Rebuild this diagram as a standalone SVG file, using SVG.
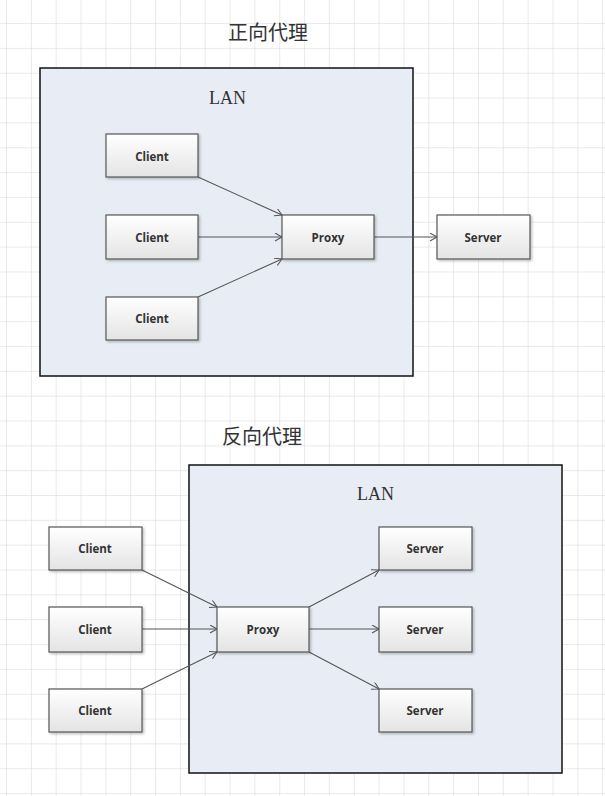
<svg xmlns="http://www.w3.org/2000/svg" width="605" height="796" viewBox="0 0 605 796">
<style>
.title{font-family:"Noto Sans CJK SC","Noto Sans CJK JP",sans-serif;font-size:20px;fill:#333}
.lan{font-family:"Liberation Serif",serif;font-size:18px;fill:#333}
.box{fill:url(#g);stroke:#555;stroke-width:1.2;filter:url(#sh)}
.lbl{font-family:"Open Sans","Liberation Sans",sans-serif;font-size:11.5px;font-weight:bold;fill:#333;text-anchor:middle;dominant-baseline:central}
.area{fill:#e8edf5;stroke:#111;stroke-width:1.5}
.edge{stroke:#555;stroke-width:1.1;fill:none;marker-end:url(#ah)}
</style>
<defs>
<pattern id="grid" x="6" y="-1.8" width="24.84" height="24.84" patternUnits="userSpaceOnUse">
<path d="M0 0V24.84M0 0H24.84" stroke="#d6d6d6" stroke-width="1" fill="none"/>
</pattern>
<linearGradient id="g" x1="0" y1="0" x2="0" y2="1">
<stop offset="0" stop-color="#ffffff"/>
<stop offset="1" stop-color="#e4e4e4"/>
</linearGradient>
<filter id="sh" x="-10%" y="-10%" width="130%" height="140%">
<feDropShadow dx="1.5" dy="1.5" stdDeviation="1" flood-color="#000" flood-opacity="0.25"/>
</filter>
<marker id="ah" markerWidth="10" markerHeight="10" refX="8" refY="4" orient="auto" markerUnits="userSpaceOnUse">
<path d="M1 0L8 4L1 8" fill="none" stroke="#555" stroke-width="1.1"/>
</marker>
</defs>
<rect width="605" height="796" fill="#fff"/>
<rect width="605" height="796" fill="url(#grid)"/>

<text class="title" x="228" y="40">正向代理</text>
<text class="title" x="222" y="444">反向代理</text>

<g id="lan-top"><rect class="area" x="40" y="68" width="373" height="308"/><text class="lan" x="209" y="104">LAN</text></g>
<g id="lan-bottom"><rect class="area" x="189" y="465" width="373" height="308"/><text class="lan" x="357" y="500">LAN</text></g>

<g id="edges">
<path class="edge" d="M198 177L282 215"/>
<path class="edge" d="M198 237H282"/>
<path class="edge" d="M198 297L282 259"/>
<path class="edge" d="M374 237H437"/>
<path class="edge" d="M142 570L217 607"/>
<path class="edge" d="M142 629H217"/>
<path class="edge" d="M142 689L217 652"/>
<path class="edge" d="M309 607L379 570"/>
<path class="edge" d="M309 629H379"/>
<path class="edge" d="M309 652L379 689"/>
</g>

<g id="t-client1"><rect class="box" x="106" y="134" width="92" height="43"/><text class="lbl" x="152" y="156">Client</text></g>
<g id="t-client2"><rect class="box" x="106" y="215" width="92" height="44"/><text class="lbl" x="152" y="237">Client</text></g>
<g id="t-client3"><rect class="box" x="106" y="297" width="92" height="43"/><text class="lbl" x="152" y="318">Client</text></g>
<g id="t-proxy"><rect class="box" x="282" y="215" width="92" height="44"/><text class="lbl" x="328" y="237">Proxy</text></g>
<g id="t-server"><rect class="box" x="437" y="215" width="93" height="44"/><text class="lbl" x="483" y="237">Server</text></g>

<g id="b-client1"><rect class="box" x="49" y="527" width="93" height="43"/><text class="lbl" x="95" y="548">Client</text></g>
<g id="b-client2"><rect class="box" x="49" y="607" width="93" height="45"/><text class="lbl" x="95" y="629">Client</text></g>
<g id="b-client3"><rect class="box" x="49" y="689" width="93" height="43"/><text class="lbl" x="95" y="710">Client</text></g>
<g id="b-proxy"><rect class="box" x="217" y="607" width="92" height="45"/><text class="lbl" x="263" y="629">Proxy</text></g>
<g id="b-server1"><rect class="box" x="379" y="527" width="93" height="43"/><text class="lbl" x="425" y="548">Server</text></g>
<g id="b-server2"><rect class="box" x="379" y="607" width="93" height="45"/><text class="lbl" x="425" y="629">Server</text></g>
<g id="b-server3"><rect class="box" x="379" y="689" width="93" height="43"/><text class="lbl" x="425" y="710">Server</text></g>
</svg>
